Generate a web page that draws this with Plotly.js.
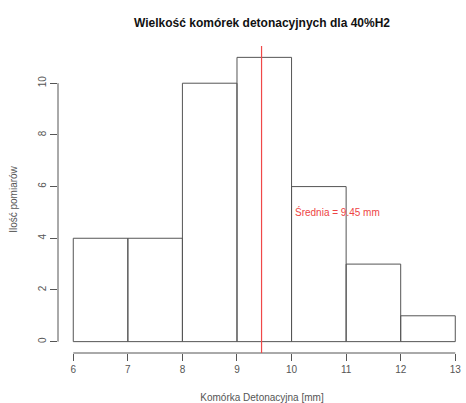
<!DOCTYPE html>
<html>
<head>
<meta charset="utf-8">
<script src="https://cdn.plot.ly/plotly-3.0.1.min.js"></script>
<style>html,body{margin:0;padding:0;background:#fff;}#chart{width:466px;height:403px;}</style>
</head>
<body>
<div id="chart"></div>
<script>
const binStarts = [6, 7, 8, 9, 10, 11, 12];
const counts = [4, 4, 10, 11, 6, 3, 1];
const meanValue = 9.45;
const xTicks = [6, 7, 8, 9, 10, 11, 12, 13];
const yTicks = [0, 2, 4, 6, 8, 10];
const titleText = 'Wielkość komórek detonacyjnych dla 40%H2';
const xTitle = 'Komórka Detonacyjna [mm]';
const yTitle = 'Ilość pomiarów';
const meanLabel = 'Średnia = 9.45 mm';
const labelPos = [10.85, 5];

const font = 'Liberation Sans, Arial, sans-serif';
const ink = '#555';

const trace = {
  type: 'bar',
  x: binStarts,
  y: counts,
  width: 1,
  offset: 0,
  marker: {color: 'rgba(255,255,255,0)', line: {color: ink, width: 1}},
  hoverinfo: 'skip'
};

const layout = {
  width: 466, height: 403,
  margin: {l: 58, r: 0, t: 46, b: 50},
  paper_bgcolor: '#fff', plot_bgcolor: '#fff',
  showlegend: false,
  font: {family: font, size: 10, color: ink},
  title: {text: '<b>' + titleText + '</b>', font: {family: font, size: 12, color: '#111'},
          x: 0.5, xref: 'paper', y: 0.955, yref: 'container', xanchor: 'center'},
  xaxis: {
    range: [5.72, 5.72 + 408 / 54.57],
    tickvals: xTicks, ticktext: xTicks.map(String),
    ticks: 'outside', ticklen: 7, tickcolor: ink, tickwidth: 1,
    showline: false, showgrid: false, zeroline: false,
    tickfont: {family: font, size: 10, color: ink},
    title: {text: xTitle, font: {family: font, size: 10, color: ink}, standoff: 19}
  },
  yaxis: {
    range: [-0.44, 11.44],
    tickvals: yTicks, ticktext: yTicks.map(String),
    tickangle: -90,
    ticks: 'outside', ticklen: 7, tickcolor: ink, tickwidth: 1,
    showline: false, showgrid: false, zeroline: false,
    tickfont: {family: font, size: 10, color: ink},
    title: {text: yTitle, font: {family: font, size: 10, color: ink}, standoff: 17}
  },
  shapes: [
    {type: 'line', xref: 'x', yref: 'paper', x0: xTicks[0], x1: xTicks[xTicks.length - 1], y0: 0, y1: 0,
     line: {color: ink, width: 1}},
    {type: 'line', xref: 'paper', yref: 'y', x0: 0, x1: 0, y0: yTicks[0], y1: yTicks[yTicks.length - 1],
     line: {color: ink, width: 1}},
    {type: 'line', xref: 'x', yref: 'paper', x0: meanValue, x1: meanValue, y0: 0, y1: 1,
     layer: 'above', line: {color: '#f04848', width: 1.2}}
  ],
  annotations: [
    {x: labelPos[0], y: labelPos[1], xref: 'x', yref: 'y', text: meanLabel, showarrow: false,
     font: {family: font, size: 10, color: '#ee4444'}, xanchor: 'center', yanchor: 'middle'}
  ]
};

Plotly.newPlot('chart', [trace], layout, {displayModeBar: false, staticPlot: true});
</script>
</body>
</html>
